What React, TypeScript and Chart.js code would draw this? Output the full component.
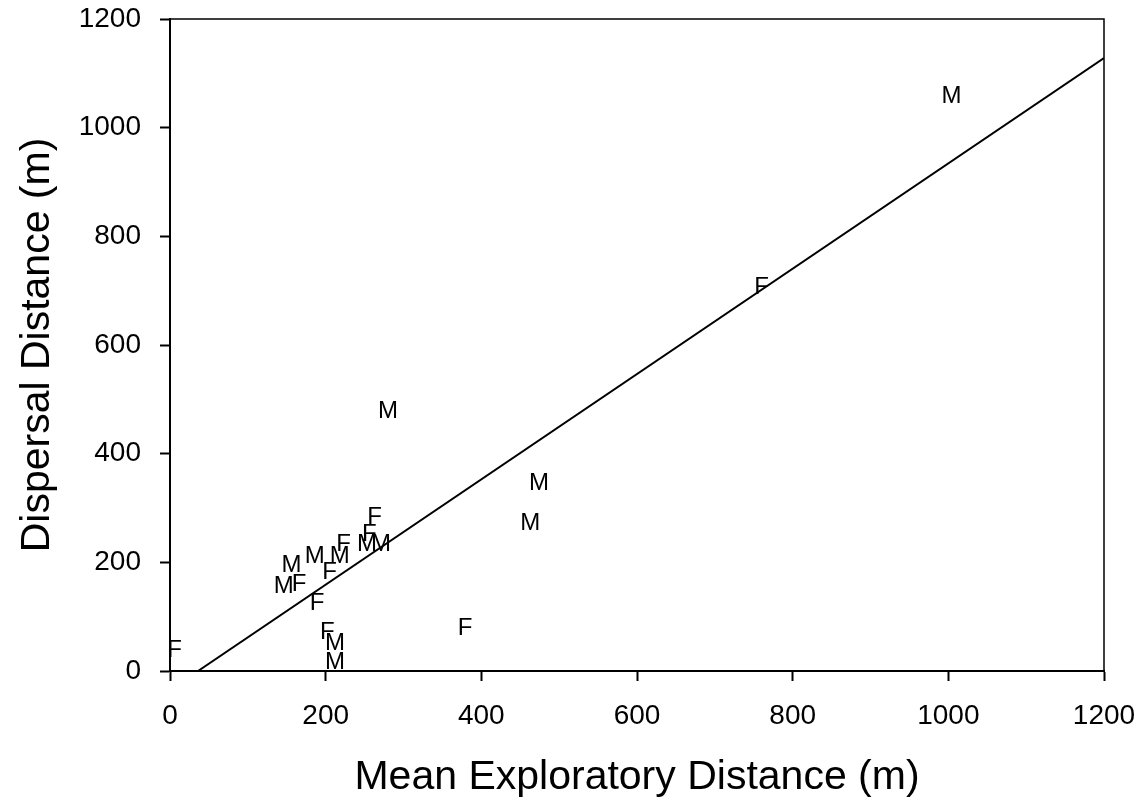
import React, { useEffect, useRef } from "react";
import { Chart, registerables } from "chart.js";

Chart.register(...registerables);

// Males: mean exploratory distance (x) vs dispersal distance (y)
const maleX = [1004, 280, 474, 463, 156, 146, 186, 218, 253, 271, 212, 212];
const maleY = [1060, 480, 348, 274, 196, 158, 212, 212, 235, 235, 52, 17];

// Females
const femaleX = [6, 760, 379, 166, 205, 189, 223, 256, 263, 202];
const femaleY = [39, 707, 80, 161, 183, 127, 235, 253, 285, 73];

// Regression line end points
const lineX = [36, 1200];
const lineY = [0, 1128];

const xTicks = [0, 200, 400, 600, 800, 1000, 1200];
const yTicks = [0, 200, 400, 600, 800, 1000, 1200];

const FONT = "'Liberation Sans', Arial, sans-serif";

const letterPlugin = {
  id: "letters",
  afterDatasetsDraw(chart: any) {
    const ctx = chart.ctx;
    ctx.save();
    ctx.font = `24px ${FONT}`;
    ctx.fillStyle = "#000";
    ctx.textAlign = "center";
    ctx.textBaseline = "middle";
    chart.data.datasets.forEach((ds: any, i: number) => {
      if (!ds.letter) return;
      const meta = chart.getDatasetMeta(i);
      meta.data.forEach((pt: any) => {
        ctx.fillText(ds.letter, pt.x, pt.y + 1);
      });
    });
    ctx.restore();
  },
  afterDraw(chart: any) {
    const { ctx, chartArea } = chart;
    ctx.save();
    ctx.strokeStyle = "#000";
    ctx.lineWidth = 1.5;
    ctx.beginPath();
    ctx.moveTo(chartArea.left, chartArea.top);
    ctx.lineTo(chartArea.right, chartArea.top);
    ctx.lineTo(chartArea.right, chartArea.bottom);
    ctx.stroke();
    ctx.restore();
  },
};

const zeroPad = (s: any) => {
  s.paddingLeft = 0;
  s.paddingRight = 0;
  s.paddingTop = 0;
  s.paddingBottom = 0;
};

export default function App() {
  const ref = useRef<HTMLCanvasElement>(null);
  useEffect(() => {
    if (!ref.current) return;
    Chart.defaults.color = "#000";
    const chart = new Chart(ref.current, {
      type: "scatter",
      data: {
        datasets: [
          {
            label: "M",
            letter: "M",
            data: maleX.map((x, i) => ({ x, y: maleY[i] })),
            pointRadius: 0,
            pointHoverRadius: 0,
          } as any,
          {
            label: "F",
            letter: "F",
            data: femaleX.map((x, i) => ({ x, y: femaleY[i] })),
            pointRadius: 0,
            pointHoverRadius: 0,
          } as any,
          {
            label: "Regression",
            data: lineX.map((x, i) => ({ x, y: lineY[i] })),
            showLine: true,
            borderColor: "#000",
            borderWidth: 2,
            pointRadius: 0,
            pointHoverRadius: 0,
            fill: false,
          } as any,
        ],
      },
      options: {
        animation: false,
        responsive: false,
        devicePixelRatio: 1,
        layout: { padding: { top: 19, right: 41, left: 0, bottom: 0 } },
        plugins: {
          legend: { display: false },
          tooltip: { enabled: false },
        },
        scales: {
          x: {
            type: "linear",
            min: 0,
            max: 1200,
            afterBuildTicks: (s: any) => {
              s.ticks = xTicks.map((v) => ({ value: v }));
            },
            afterFit: (s: any) => {
              s.height = 134;
              zeroPad(s);
            },
            ticks: {
              font: { family: FONT, size: 28 },
              color: "#000",
              padding: 18,
              maxRotation: 0,
              callback: (v: any) => String(v),
            },
            grid: {
              drawOnChartArea: false,
              drawTicks: true,
              tickLength: 10,
              tickWidth: 2,
              color: "#000",
            },
            border: { display: true, color: "#000", width: 2 },
            title: {
              display: true,
              text: "Mean Exploratory Distance (m)",
              font: { family: FONT, size: 41 },
              color: "#000",
              padding: { top: 0, bottom: 3 },
            },
          },
          y: {
            type: "linear",
            min: 0,
            max: 1200,
            afterBuildTicks: (s: any) => {
              s.ticks = yTicks.map((v) => ({ value: v }));
            },
            afterFit: (s: any) => {
              s.width = 170;
              zeroPad(s);
            },
            ticks: {
              font: { family: FONT, size: 28 },
              color: "#000",
              padding: 19,
              callback: (v: any) => String(v),
            },
            grid: {
              drawOnChartArea: false,
              drawTicks: true,
              tickLength: 10,
              tickWidth: 2,
              color: "#000",
            },
            border: { display: true, color: "#000", width: 2 },
            title: {
              display: true,
              text: "Dispersal Distance (m)",
              font: { family: FONT, size: 41 },
              color: "#000",
              padding: { top: 13, bottom: 0 },
            },
          },
        },
      },
      plugins: [letterPlugin],
    });
    return () => chart.destroy();
  }, []);
  return (
    <div style={{ position: "fixed", left: 0, top: 0, width: 1145, height: 805, background: "#fff" }}>
      <canvas ref={ref} width={1145} height={805} />
    </div>
  );
}
